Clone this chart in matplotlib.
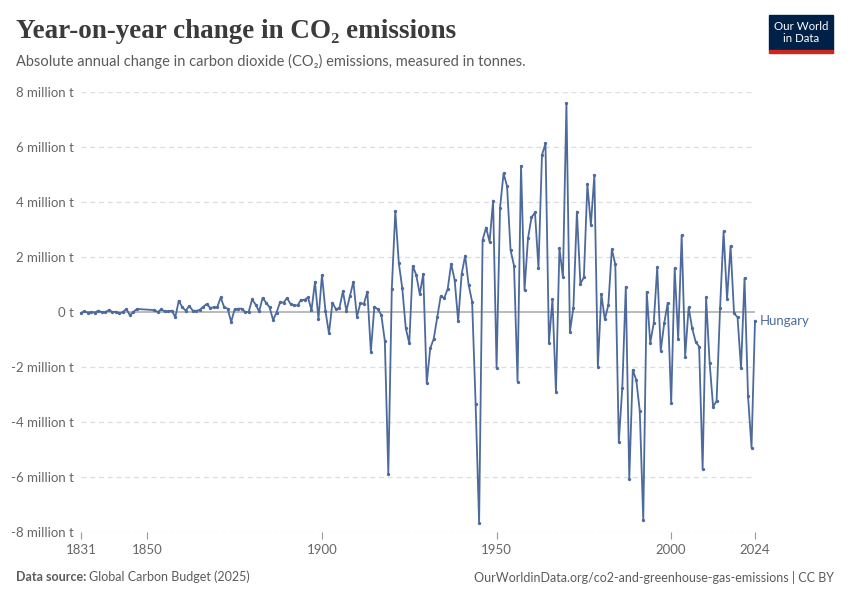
import matplotlib
matplotlib.use("Agg")
import matplotlib.pyplot as plt
from matplotlib.patches import Rectangle
from matplotlib.ticker import FuncFormatter, FixedLocator

# ---- data (million tonnes, year-on-year change), Hungary ----
years_early = list(range(1831, 1848))
values_early = [-0.04, 0.02, -0.02, 0.0, -0.02, 0.05, -0.01, 0.0, 0.07, 0.0,
                0.01, -0.05, 0.0, 0.11, -0.12, 0.0, 0.11]

years_1852_1899 = list(range(1852, 1900))
values_1852_1899 = [0.07, 0.0, 0.1, 0.02, 0.02, 0.05, -0.19, 0.41, 0.17, 0.05,
                    0.22, 0.05, 0.04, 0.08, 0.19, 0.29, 0.15, 0.17, 0.17, 0.53,
                    0.17, 0.12, -0.36, 0.10, 0.12, 0.12, 0.0, 0.0, 0.46, 0.27,
                    0.02, 0.51, 0.34, 0.17, -0.29, -0.02, 0.36, 0.34, 0.51, 0.29,
                    0.24, 0.24, 0.44, 0.44, 0.53, 0.07, 1.09, -0.25]

years_1900_1949 = list(range(1900, 1950))
values_1900_1949 = [1.35, 0.04, -0.78, 0.34, 0.1, 0.15, 0.75, 0.04, 0.58, 1.1,
                    -0.17, 0.32, 0.29, 0.74, -1.44, 0.19, 0.1, -0.11, -1.05, -5.9,
                    0.85, 3.67, 1.79, 0.86, -0.59, -1.14, 1.67, 1.35, 0.65, 1.38,
                    -2.59, -1.32, -0.98, -0.19, 0.58, 0.5, 0.84, 1.75, 1.16, -0.33,
                    1.38, 2.05, 0.99, 0.37, -3.35, -7.66, 2.62, 3.07, 2.55, 4.05]

years_1950_1999 = list(range(1950, 2000))
values_1950_1999 = [-2.03, 3.8, 5.04, 4.58, 2.25, 1.68, -2.53, 5.31, 0.8, 2.68,
                    3.44, 3.62, 1.59, 5.71, 6.13, -1.12, 0.46, -2.9, 2.32, 1.26,
                    7.59, -0.72, 0.16, 3.65, 1.03, 1.26, 4.64, 3.16, 4.98, -1.99,
                    0.65, -0.27, 0.25, 2.28, 1.73, -4.74, -2.75, 0.92, -6.08, -2.11,
                    -2.47, -3.59, -7.56, 0.72, -1.12, -0.41, 1.62, -1.41, -0.41, 0.33]

years_2000_2024 = list(range(2000, 2025))
values_2000_2024 = [-3.32, 1.59, -0.98, 2.79, -1.62, 0.17, -0.59, -1.08, -1.26, -5.72,
                    0.53, -1.84, -3.44, -3.24, 0.15, 2.93, 0.47, 2.4, -0.05, -0.19,
                    -2.05, 1.23, -3.05, -4.93, -0.32]

years = years_early + years_1852_1899 + years_1900_1949 + years_1950_1999 + years_2000_2024
values = values_early + values_1852_1899 + values_1900_1949 + values_1950_1999 + values_2000_2024
values_t = [v * 1e6 for v in values]

x_ticks = [1831, 1850, 1900, 1950, 2000, 2024]
y_ticks = [-8e6, -6e6, -4e6, -2e6, 0, 2e6, 4e6, 6e6, 8e6]
country = "Hungary"

# ---- styling ----
LINE = "#4c6a9c"
GRID = "#dddddd"
TXT = "#666666"
sans = ["Lato", "DejaVu Sans"]
serif = ["Liberation Serif", "DejaVu Serif"]

W, H = 850, 600
fig = plt.figure(figsize=(W / 100, H / 100), dpi=100)
ax = fig.add_axes([81 / W, (H - 532) / H, (755 - 81) / W, (532 - 92) / H])

ax.plot(years, values_t, color=LINE, lw=1.3, marker="o", ms=2.4,
        markerfacecolor=LINE, markeredgewidth=0, zorder=3, clip_on=False)

ax.set_xlim(1831, 2024)
ax.set_ylim(-8e6, 8e6)

for yv in y_ticks:
    if yv == 0:
        ax.axhline(0, color="#a8a8a8", lw=1.1, zorder=1)
    else:
        ax.axhline(yv, color=GRID, lw=0.9, ls=(0, (4, 3)), zorder=0)

for s in ax.spines.values():
    s.set_visible(False)

ax.yaxis.set_major_locator(FixedLocator(y_ticks))
def fmt(v, pos):
    if v == 0:
        return "0 t"
    return f"{int(round(v / 1e6))} million t"
ax.yaxis.set_major_formatter(FuncFormatter(fmt))
ax.tick_params(axis="y", length=0, pad=5, labelcolor=TXT, labelsize=9.5)
for lab in ax.get_yticklabels():
    lab.set_family(sans)

ax.xaxis.set_major_locator(FixedLocator(x_ticks))
ax.set_xticklabels([str(t) for t in x_ticks])
ax.tick_params(axis="x", length=5, width=0.8, color="#999999", pad=4,
               labelcolor=TXT, labelsize=9.5)
for lab in ax.get_xticklabels():
    lab.set_family(sans)

# series label
ax.text(2024 + 1.5, values_t[-1], country, color=LINE, fontsize=9.5,
        family=sans, va="center", ha="left", clip_on=False)

# title / subtitle
fig.text(16 / W, 1 - 32 / H, "Year-on-year change in CO₂ emissions",
         family=serif, fontsize=19.5, weight="bold", color="#3b3b3b",
         va="center", ha="left")
fig.text(16 / W, 1 - 61 / H,
         "Absolute annual change in carbon dioxide (CO₂) emissions, measured in tonnes.",
         family=sans, fontsize=10.5, color="#5b5b5b", va="center", ha="left")

# logo
lx, ly, lw_, lh = 769, 15, 64, 35
fig.patches.append(Rectangle((lx / W, 1 - (ly + lh) / H), lw_ / W, lh / H,
                             transform=fig.transFigure, color="#002147", zorder=5))
fig.patches.append(Rectangle((lx / W, 1 - (ly + lh + 3) / H), lw_ / W, 3 / H,
                             transform=fig.transFigure, color="#ce261e", zorder=5))
fig.text((lx + lw_ / 2) / W, 1 - (ly + lh / 2) / H, "Our World\nin Data",
         family=sans, fontsize=8.3, color="white", ha="center", va="center",
         linespacing=1.05, zorder=6)

# footer
fig.text(16 / W, 1 - 577 / H, "Data source:", family=sans, fontsize=9,
         color="#5b5b5b", weight="bold", va="center", ha="left")
fig.text(89 / W, 1 - 577 / H, "Global Carbon Budget (2025)", family=sans,
         fontsize=9, color="#5b5b5b", va="center", ha="left")
fig.text(834 / W, 1 - 577 / H,
         "OurWorldinData.org/co2-and-greenhouse-gas-emissions | CC BY",
         family=sans, fontsize=9, color="#5b5b5b", va="center", ha="right")

fig.savefig("out.png", dpi=100, facecolor="white")
